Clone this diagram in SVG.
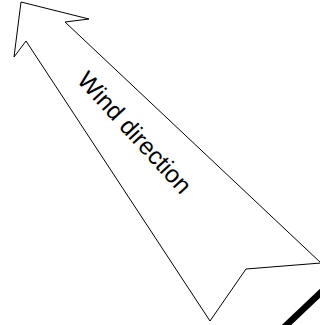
<svg xmlns="http://www.w3.org/2000/svg" width="320" height="325" viewBox="0 0 320 325">
<style>
.arrow{fill:#fff;stroke:#000;stroke-width:1;stroke-linejoin:miter}
.lbl{font-family:"Liberation Sans",Arial,sans-serif;font-size:24.5px;fill:#000}
</style>
<rect width="320" height="325" fill="#fff"/>
<g id="wind-arrow">
<polygon class="arrow" points="21,2 89,19 65,22 321,263 246,269 210,321 26,41 14,57"/>
<text class="lbl" transform="translate(76,81) rotate(47.5)">Wind direction</text>
</g>
<g id="connectors">
<line x1="284" y1="327.4" x2="330" y2="283.8" stroke="#000" stroke-width="6.5"/>
</g>
</svg>
